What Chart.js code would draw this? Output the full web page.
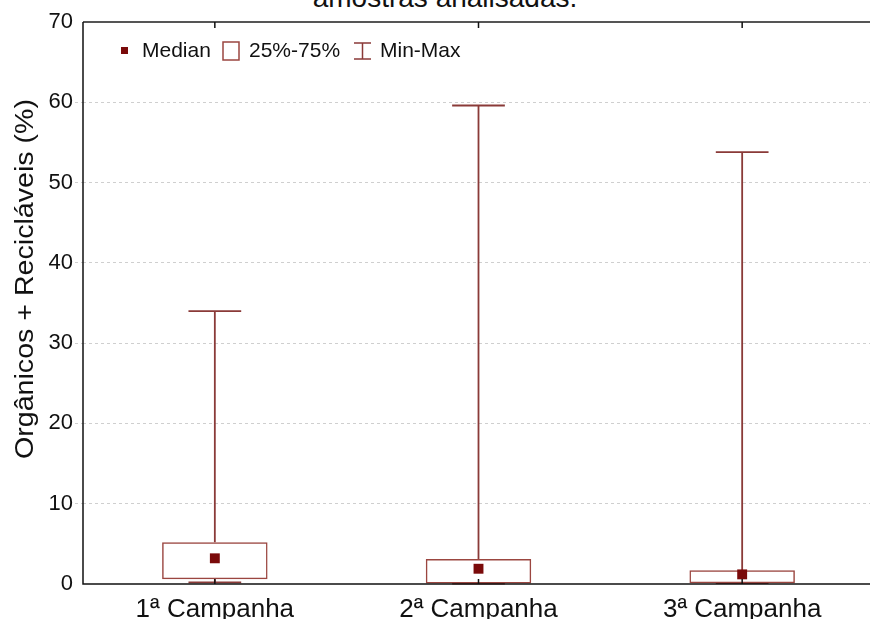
<!DOCTYPE html>
<html>
<head>
<meta charset="utf-8">
<script src="https://cdn.jsdelivr.net/npm/chart.js@4"></script>
<style>
  html, body { margin: 0; padding: 0; background: #fff; overflow: hidden; width: 870px; height: 619px; }
  .title { position: absolute; top: -17px; left: 0; width: 890px; text-align: center; font: 28px "Liberation Sans", Arial, sans-serif; line-height: 30px; color: #111; }
  .wrap { position: absolute; top: 0; left: 0; width: 881px; height: 619px; }
</style>
</head>
<body>
<div class="title">amostras analisadas.</div>
<div class="wrap"><canvas id="myChart"></canvas></div>
<script>
const categories = ["1ª Campanha", "2ª Campanha", "3ª Campanha"];
const mins = [0.2, 0.05, 0.1];
const q1 = [0.6, 0.05, 0.1];
const medians = [3.2, 1.9, 1.2];
const q3 = [5.2, 3.1, 1.7];
const maxs = [34, 59.6, 53.8];
const yTicks = [0, 10, 20, 30, 40, 50, 60, 70];
const yTitle = "Orgânicos + Recicláveis (%)";

const boxColor = "#9b4640";
const whiskerColor = "#8a3a38";
const medianColor = "#7a0a0a";
const font = "Liberation Sans, Arial, sans-serif";

// whiskers, frame, legend, y title
const boxPlugin = {
  id: "boxPlugin",
  beforeDatasetsDraw(chart) {
    let ctx = chart.ctx;
    let x = chart.scales.x;
    let y = chart.scales.y;
    let half = (x.getPixelForValue(1) - x.getPixelForValue(0)) * 0.1;
    ctx.save();
    ctx.strokeStyle = whiskerColor;
    ctx.lineWidth = 1.8;
    for (var i = 0; i < categories.length; i++) {
      let cx = x.getPixelForValue(i);
      ctx.beginPath();
      ctx.moveTo(cx, y.getPixelForValue(q3[i]));
      ctx.lineTo(cx, y.getPixelForValue(maxs[i]));
      ctx.moveTo(cx - half, y.getPixelForValue(maxs[i]));
      ctx.lineTo(cx + half, y.getPixelForValue(maxs[i]));
      ctx.moveTo(cx, y.getPixelForValue(q1[i]));
      ctx.lineTo(cx, y.getPixelForValue(mins[i]));
      ctx.moveTo(cx - half, y.getPixelForValue(mins[i]));
      ctx.lineTo(cx + half, y.getPixelForValue(mins[i]));
      ctx.stroke();
    }
    ctx.restore();
  },
  afterDraw(chart) {
    let ctx = chart.ctx;
    let a = chart.chartArea;
    let x = chart.scales.x;
    ctx.save();
    // top frame
    ctx.strokeStyle = "#555";
    ctx.lineWidth = 2;
    ctx.beginPath();
    ctx.moveTo(a.left, a.top);
    ctx.lineTo(a.right, a.top);
    ctx.stroke();
    // left and bottom axis
    ctx.strokeStyle = "#111";
    ctx.lineWidth = 1.5;
    ctx.beginPath();
    ctx.moveTo(a.left, a.top);
    ctx.lineTo(a.left, a.bottom);
    ctx.lineTo(a.right, a.bottom);
    ctx.stroke();
    // inner category ticks
    ctx.beginPath();
    for (var i = 0; i < categories.length; i++) {
      let cx = x.getPixelForValue(i);
      ctx.moveTo(cx, a.top);
      ctx.lineTo(cx, a.top + 6);
      ctx.moveTo(cx, a.bottom);
      ctx.lineTo(cx, a.bottom - 5);
    }
    ctx.stroke();

    // y title (the original is a bit stretched vertically)
    ctx.save();
    ctx.translate(26, 279);
    ctx.rotate(-Math.PI / 2);
    ctx.scale(1.1, 1);
    ctx.font = "26px " + font;
    ctx.fillStyle = "#111";
    ctx.textAlign = "center";
    ctx.textBaseline = "middle";
    ctx.fillText(yTitle, 0, 0);
    ctx.restore();

    // legend
    let ly = 51;
    ctx.fillStyle = medianColor;
    ctx.fillRect(121, ly - 4, 7, 7);
    ctx.font = "21px " + font;
    ctx.fillStyle = "#111";
    ctx.textBaseline = "middle";
    ctx.fillText("Median", 142, ly);
    ctx.strokeStyle = boxColor;
    ctx.lineWidth = 1.5;
    ctx.strokeRect(223, ly - 9, 16, 18);
    ctx.fillText("25%-75%", 249, ly);
    ctx.strokeStyle = whiskerColor;
    ctx.beginPath();
    ctx.moveTo(354, ly - 8);
    ctx.lineTo(371, ly - 8);
    ctx.moveTo(362.5, ly - 8);
    ctx.lineTo(362.5, ly + 8);
    ctx.moveTo(354, ly + 8);
    ctx.lineTo(371, ly + 8);
    ctx.stroke();
    ctx.fillText("Min-Max", 380, ly);
    ctx.restore();
  }
};

const ctx1 = document.getElementById("myChart").getContext("2d");
const myChart = new Chart(ctx1, {
  type: "bar",
  data: {
    labels: categories,
    datasets: [
      {
        type: "line",
        label: "Median",
        data: medians,
        showLine: false,
        pointStyle: "rect",
        pointRadius: 7,
        pointBackgroundColor: medianColor,
        pointBorderColor: medianColor,
        pointBorderWidth: 0,
      },
      {
        label: "25%-75%",
        data: q1.map((v, i) => [v, q3[i]]),
        backgroundColor: "rgba(255,255,255,0)",
        borderColor: boxColor,
        borderWidth: 1.5,
        borderSkipped: false,
        barPercentage: 0.4,
        categoryPercentage: 1,
      },
    ],
  },
  options: {
    responsive: true,
    maintainAspectRatio: false,
    animation: false,
    layout: { padding: { top: 22, left: 0, right: 0, bottom: 0 } },
    plugins: {
      legend: { display: false },
      tooltip: { enabled: false },
    },
    scales: {
      x: {
        offset: true,
        grid: { display: false },
        border: { display: false },
        ticks: { color: "#111", font: { family: font, size: 26 }, padding: 2, maxRotation: 0 },
        afterFit: (scale) => { scale.height = 35; },
      },
      y: {
        min: 0,
        max: 70,
        afterBuildTicks: (scale) => { scale.ticks = yTicks.map((v) => ({ value: v })); },
        grid: {
          color: (c) => (c.tick && (c.tick.value === 0 || c.tick.value === 70) ? "rgba(0,0,0,0)" : "#cfcfcf"),
          tickColor: (c) => (c.tick && (c.tick.value === 0 || c.tick.value === 70) ? "rgba(0,0,0,0)" : "#cfcfcf"),
          tickLength: 8,
          tickBorderDash: [3, 3],
          lineWidth: 1,
        },
        border: { display: false, dash: [3, 3] },
        ticks: { color: "#111", font: { family: font, size: 22 }, padding: 2 },
        afterFit: (scale) => { scale.width = 83; },
      },
    },
  },
  plugins: [boxPlugin],
});
</script>
</body>
</html>
